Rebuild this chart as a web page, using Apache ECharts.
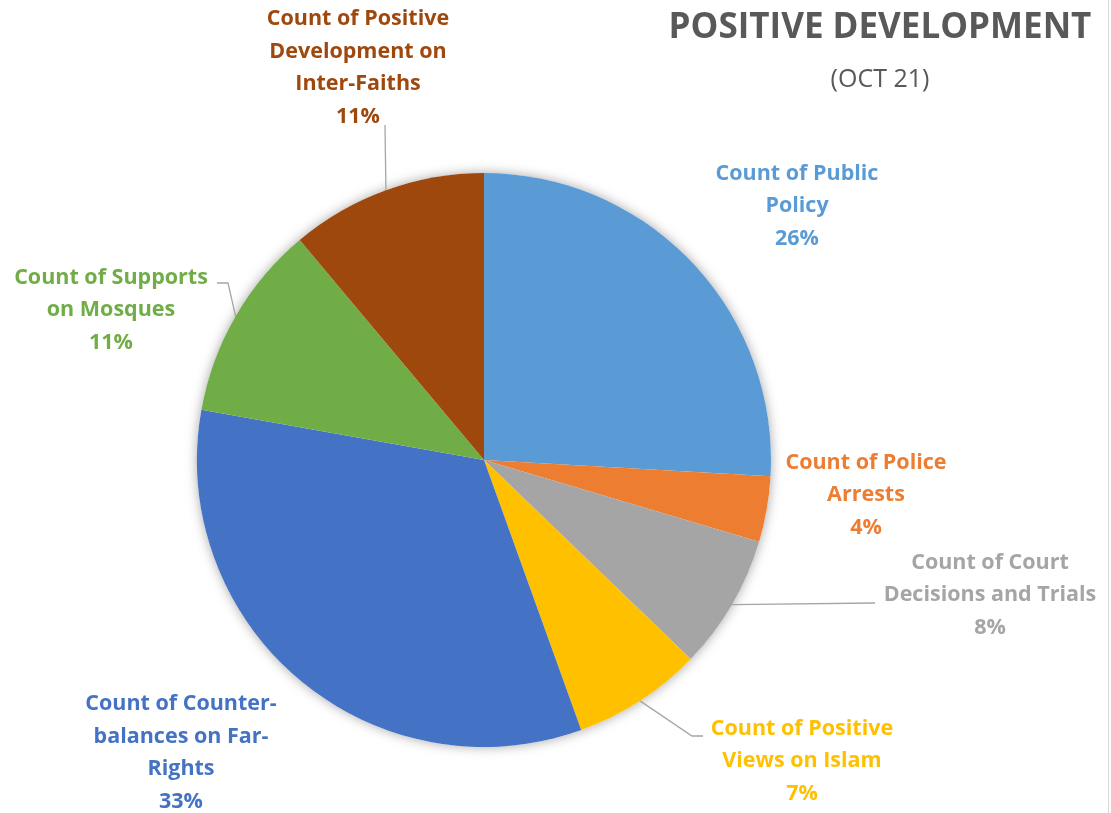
<!DOCTYPE html>
<html>
<head>
<meta charset="utf-8">
<script src="https://cdn.jsdelivr.net/npm/echarts@6/dist/echarts.min.js"></script>
<style>html,body{margin:0;padding:0;background:#fff}#c{width:1111px;height:813px}</style>
</head>
<body>
<div id="c"></div>
<script>
// ---- data ----
const categories = [
  'Count of Public Policy',
  'Count of Police Arrests',
  'Count of Court Decisions and Trials',
  'Count of Positive Views on Islam',
  'Count of Counter-balances on Far-Rights',
  'Count of Supports on Mosques',
  'Count of Positive Development on Inter-Faiths'
];
const labelText = [
  'Count of Public\nPolicy',
  'Count of Police\nArrests',
  'Count of Court\nDecisions and Trials',
  'Count of Positive\nViews on Islam',
  'Count of Counter-\nbalances on Far-\nRights',
  'Count of Supports\non Mosques',
  'Count of Positive\nDevelopment on\nInter-Faiths'
];
const values = [25.9, 3.7, 7.6, 7.3, 33.3, 11.1, 11.1];   // estimated shares (%)
const titleText = 'POSITIVE DEVELOPMENT';
const subtitleText = '(OCT 21)';

// ---- style / layout ----
const colors = ['#5B9BD5', '#ED7D31', '#A5A5A5', '#FFC000', '#4472C4', '#70AD47', '#9E480E'];
const showLine = [false, false, true, true, false, true, true];
const labelPos = [[797, 206], [866, 495], [990, 595], [802, 761], [181, 753], [111, 310], [358, 68]];
// leader line: attach point offset from label centre, and horizontal elbow length
const lineAttach = [null, null, [-115, 8], [-99, -25], null, [106, -27], [27, 57]];
const lineElbow = [0, 0, 0, -11, 0, 11, 0];
const FONT = '"Open Sans", Lato, sans-serif';

const data = categories.map((name, i) => ({
  name: name,
  value: values[i],
  itemStyle: { color: colors[i] },
  label: { color: colors[i] },
  labelLine: { show: showLine[i] }
}));

const chart = echarts.init(document.getElementById('c'), null, { renderer: 'canvas' });
chart.setOption({
  backgroundColor: '#ffffff',
  animation: false,
  title: [
    {
      text: titleText, left: 880, top: 11, textAlign: 'center', padding: 0,
      textStyle: { fontFamily: FONT, fontSize: 35, fontWeight: 'bold', color: '#595959' }
    },
    {
      text: subtitleText, left: 880, top: 67, textAlign: 'center', padding: 0,
      textStyle: { fontFamily: FONT, fontSize: 25, fontWeight: 'normal', color: '#595959' }
    }
  ],
  graphic: [
    { type: 'line', shape: { x1: 1108.5, y1: 0, x2: 1108.5, y2: 813 }, style: { stroke: '#D9D9D9', lineWidth: 1 }, silent: true }
  ],
  series: [
    {
      type: 'pie', name: 'shadow', silent: true, z: 1,
      center: [484, 460], radius: 287,
      data: [{ value: 1 }],
      itemStyle: { color: '#ffffff', shadowBlur: 12, shadowColor: 'rgba(0,0,0,0.35)' },
      label: { show: false }, labelLine: { show: false },
      emphasis: { disabled: true }, tooltip: { show: false }
    },
    {
      type: 'pie', name: 'Positive Development', z: 2,
      center: [484, 460], radius: 287,
      startAngle: 90, clockwise: true,
      avoidLabelOverlap: false,
      data: data,
      itemStyle: { borderWidth: 0 },
      emphasis: { disabled: true },
      label: {
        show: true, position: 'outside',
        fontFamily: FONT, fontSize: 21.5, fontWeight: 'bold', lineHeight: 32.5,
        formatter: p => labelText[p.dataIndex] + '\n' + Math.round(p.percent) + '%'
      },
      labelLine: {
        length: 12, length2: 12,
        lineStyle: { color: '#A6A6A6', width: 1.3 }
      },
      labelLayout: p => {
        const i = p.dataIndex;
        const pos = labelPos[i];
        const res = { x: pos[0], y: pos[1], align: 'center', verticalAlign: 'middle' };
        if (lineAttach[i] && p.labelLinePoints) {
          const start = p.labelLinePoints[0];
          const ax = pos[0] + lineAttach[i][0];
          const ay = pos[1] + lineAttach[i][1];
          res.labelLinePoints = [[start[0], start[1]], [ax + lineElbow[i], ay], [ax, ay]];
        }
        return res;
      }
    }
  ]
});
</script>
</body>
</html>
